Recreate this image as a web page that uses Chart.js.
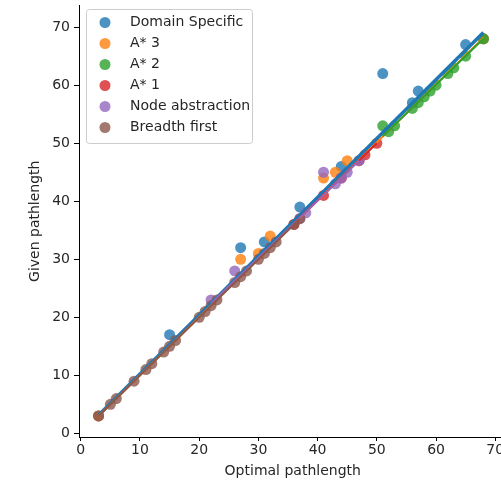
<!DOCTYPE html>
<html>
<head>
<meta charset="utf-8">
<script src="https://cdn.jsdelivr.net/npm/chart.js@4"></script>
<style>
  html, body { margin: 0; padding: 0; background: #fff; overflow: hidden; }
  #wrap { width: 512px; height: 480px; }
</style>
</head>
<body>
<div id="wrap"><canvas id="chart" width="512" height="480"></canvas></div>
<script>
// Series names and colours (matplotlib tab10)
const seriesNames = ["Domain Specific", "A* 3", "A* 2", "A* 1", "Node abstraction", "Breadth first"];
const seriesColors = ["#1f77b4", "#ff7f0e", "#2ca02c", "#d62728", "#9467bd", "#8c564b"];

// Points: [optimal, given]
const domainSpecific = [[3, 3], [15, 17], [27, 32], [31, 33], [37, 39], [44, 46], [51, 62], [56, 57], [57, 59], [65, 67], [68, 68]];
const aStar3 = [[3, 3], [27, 30], [30, 31], [32, 34], [41, 44], [43, 45], [45, 47], [68, 68]];
const aStar2 = [[51, 53], [52, 52], [53, 53], [56, 56], [57, 57], [58, 58], [59, 59], [60, 60], [62, 62], [63, 63], [65, 65], [68, 68]];
const aStar1 = [[36, 36], [41, 41], [44, 44], [47, 47], [48, 48], [50, 50]];
const nodeAbstraction = [[22, 23], [26, 28], [37, 37], [38, 38], [41, 45], [43, 43], [44, 44], [45, 45], [47, 47]];
const breadthFirst = [[3, 3], [5, 5], [6, 6], [9, 9], [11, 11], [12, 12], [14, 14], [15, 15], [16, 16], [20, 20], [21, 21],
  [22, 22], [23, 23], [26, 26], [27, 27], [28, 28], [30, 30], [31, 31], [32, 32], [33, 33], [36, 36], [37, 37]];

// Fitted line end points per series
const fitLines = [
  [[3, 3.1], [68, 69.1]],
  [[3, 3.0], [68, 68.2]],
  [[51, 51.2], [68, 68.0]],
  [[36, 36.2], [50, 50.0]],
  [[22, 22.4], [47, 47.0]],
  [[3, 3.0], [37, 37.0]]
];
const fitWidths = [3.5, 2, 2, 2, 2, 2];

const tickValues = [0, 10, 20, 30, 40, 50, 60, 70];

const allPoints = [domainSpecific, aStar3, aStar2, aStar1, nodeAbstraction, breadthFirst];
const fontFamily = "'DejaVu Sans', sans-serif";
const fontSize = 14;
const textColor = "#262626";

function withAlpha(hex, a) {
  const n = parseInt(hex.slice(1), 16);
  return `rgba(${(n >> 16) & 255}, ${(n >> 8) & 255}, ${n & 255}, ${a})`;
}

const datasets = [];
// Scatter markers: later series drawn on top, all below the lines
allPoints.forEach((pts, i) => {
  datasets.push({
    type: "scatter",
    label: seriesNames[i],
    data: pts.map(p => ({ x: p[0], y: p[1] })),
    backgroundColor: withAlpha(seriesColors[i], 0.8),
    borderWidth: 0,
    pointRadius: 5.5,
    pointHoverRadius: 5.5,
    order: 20 - i
  });
});
// Fit lines
fitLines.forEach((ln, i) => {
  datasets.push({
    type: "line",
    label: "fit " + seriesNames[i],
    data: ln.map(p => ({ x: p[0], y: p[1] })),
    borderColor: seriesColors[i],
    borderWidth: fitWidths[i],
    pointRadius: 0,
    fill: false,
    order: 10 - i
  });
});

// Legend inside the axes, top-left, matplotlib style
const insideLegend = {
  id: "insideLegend",
  afterDraw(chart) {
    const ctx = chart.ctx;
    const x0 = 86, y0 = 9, w = 166, h = 134;
    ctx.save();
    ctx.beginPath();
    ctx.roundRect(x0 + 0.5, y0 + 0.5, w, h, 3);
    ctx.fillStyle = "rgba(255,255,255,0.8)";
    ctx.fill();
    ctx.strokeStyle = "#cccccc";
    ctx.lineWidth = 1;
    ctx.stroke();
    ctx.font = fontSize + "px " + fontFamily;
    ctx.textBaseline = "middle";
    seriesNames.forEach((name, i) => {
      const cy = 22.5 + i * 21;
      ctx.beginPath();
      ctx.arc(105, cy, 5.5, 0, Math.PI * 2);
      ctx.fillStyle = withAlpha(seriesColors[i], 0.8);
      ctx.fill();
      ctx.fillStyle = textColor;
      ctx.fillText(name, 130, cy);
    });
    ctx.restore();
  }
};

new Chart(document.getElementById("chart"), {
  type: "scatter",
  data: { datasets },
  options: {
    responsive: false,
    animation: false,
    devicePixelRatio: 1,
    layout: { padding: 0 },
    plugins: { legend: { display: false }, tooltip: { enabled: false } },
    scales: {
      x: {
        type: "linear",
        min: -0.3,
        max: 71.9,
        afterBuildTicks: s => { s.ticks = tickValues.map(v => ({ value: v })); },
        afterFit: s => { s.height = 43; s.paddingLeft = 0; s.paddingRight = 0; },
        grid: { drawOnChartArea: false, color: "#000", tickLength: 4, tickWidth: 1 },
        border: { color: "#000", width: 1 },
        ticks: { color: textColor, font: { family: fontFamily, size: fontSize }, padding: 1, maxRotation: 0 },
        title: { display: true, text: "Optimal pathlength", color: textColor, font: { family: fontFamily, size: fontSize }, padding: { top: 0, bottom: 0 } }
      },
      y: {
        type: "linear",
        min: -0.63,
        max: 73.74,
        afterBuildTicks: s => { s.ticks = tickValues.map(v => ({ value: v })); },
        afterFit: s => { s.width = 79; s.paddingTop = 0; s.paddingBottom = 0; },
        grid: { drawOnChartArea: false, color: "#000", tickLength: 5, tickWidth: 1 },
        border: { color: "#000", width: 1 },
        ticks: { color: textColor, font: { family: fontFamily, size: fontSize }, padding: 4 },
        title: { display: true, text: "Given pathlength", color: textColor, font: { family: fontFamily, size: fontSize }, padding: { top: 27, bottom: 0 } }
      }
    }
  },
  plugins: [insideLegend]
});
</script>
</body>
</html>
